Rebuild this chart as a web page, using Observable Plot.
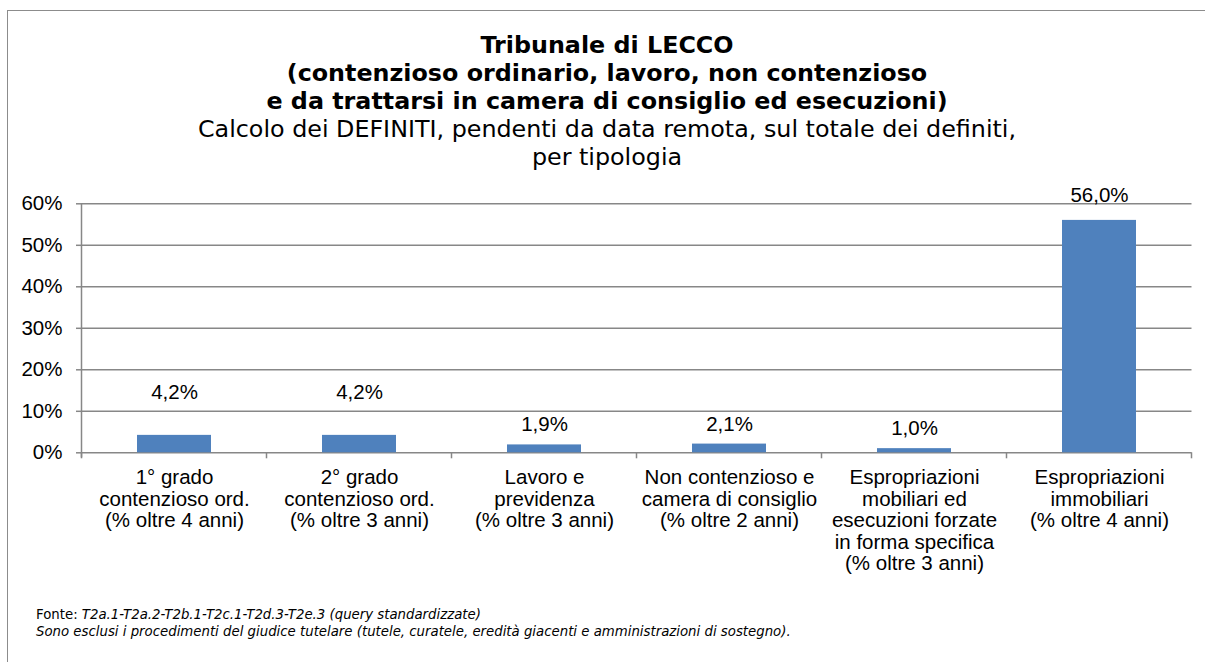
<!DOCTYPE html>
<html>
<head>
<meta charset="utf-8">
<script src="https://cdn.jsdelivr.net/npm/d3@7"></script>
<script src="https://cdn.jsdelivr.net/npm/@observablehq/plot@0.6"></script>
<style>
  html, body { margin: 0; padding: 0; background: #fff; }
  #frame { position: relative; width: 1205px; height: 662px; overflow: hidden; background: #fff; }
  #border { position: absolute; left: 7px; top: 10px; width: 1300px; height: 700px; border-top: 1.5px solid #8c8c8c; border-left: 1.5px solid #8c8c8c; }
  #title { position: absolute; left: 0; top: 31px; width: 1214px; text-align: center; font-family: "DejaVu Sans", Verdana, sans-serif; font-size: 23.8px; line-height: 28px; color: #000; }
  #title .b { font-weight: bold; }
  #chart { position: absolute; left: 0; top: 170px; }
  #chart svg { overflow: visible; }
  #foot { position: absolute; left: 36px; top: 607px; font-family: "DejaVu Sans", Verdana, sans-serif; font-size: 13.3px; line-height: 16.5px; color: #000; }
</style>
</head>
<body>
<div id="frame">
  <div id="border"></div>
  <div id="title">
    <div class="b">Tribunale di LECCO</div>
    <div class="b">(contenzioso ordinario, lavoro, non contenzioso</div>
    <div class="b">e da trattarsi in camera di consiglio ed esecuzioni)</div>
    <div>Calcolo dei DEFINITI, pendenti da data remota, sul totale dei definiti,</div>
    <div>per tipologia</div>
  </div>
  <div id="chart"></div>
  <div id="foot">
    <div>Fonte: <i>T2a.1-T2a.2-T2b.1-T2c.1-T2d.3-T2e.3 (query standardizzate)</i></div>
    <div><i>Sono esclusi i procedimenti del giudice tutelare (tutele, curatele, eredità giacenti e amministrazioni di sostegno).</i></div>
  </div>
</div>
<script>
const categories = [
  "1° grado\ncontenzioso ord.\n(% oltre 4 anni)",
  "2° grado\ncontenzioso ord.\n(% oltre 3 anni)",
  "Lavoro e\nprevidenza\n(% oltre 3 anni)",
  "Non contenzioso e\ncamera di consiglio\n(% oltre 2 anni)",
  "Espropriazioni\nmobiliari ed\nesecuzioni forzate\nin forma specifica\n(% oltre 3 anni)",
  "Espropriazioni\nimmobiliari\n(% oltre 4 anni)"
];
const values = [4.2, 4.2, 1.9, 2.1, 1.0, 56.0];
const yTicks = [0, 10, 20, 30, 40, 50, 60];

const data = categories.map((c, i) => ({
  cat: c,
  value: values[i],
  label: values[i].toFixed(1).replace(".", ",") + "%",
  i
}));

const grid = "#878787";
const fontSize = 20.5;

const chart = Plot.plot({
  width: 1205,
  height: 425,
  marginLeft: 81,
  marginRight: 13.5,
  marginTop: 33.3,
  marginBottom: 142.7,
  x: { domain: categories, paddingInner: 0.6, paddingOuter: 0.3, axis: null },
  y: { domain: [0, 60], axis: null },
  style: { fontFamily: '"Liberation Sans", Arial, sans-serif', fontSize: fontSize + "px", color: "#000", background: "transparent", overflow: "visible" },
  marks: [
    Plot.ruleY(yTicks, { stroke: grid, strokeWidth: 1.5 }),
    Plot.barY(data, { x: "cat", y: "value", fill: "#4F81BD" }),
    Plot.axisY({ ticks: yTicks, tickFormat: d => d + "%", tickSize: 5, tickPadding: 14, stroke: grid, strokeWidth: 1.5, fontSize, label: null }),
    Plot.text(data.filter(d => d.i < 2), { x: "cat", y: "value", text: "label", dy: -43, fontSize }),
    Plot.text(data.filter(d => d.i >= 2 && d.i < 5), { x: "cat", y: "value", text: "label", dy: -20, fontSize }),
    Plot.text(data.filter(d => d.i === 5), { x: "cat", y: "value", text: "label", dy: -25, fontSize }),
    Plot.text(data, { x: "cat", y: 0, text: "cat", lineAnchor: "top", dy: 16, lineHeight: 1.05, fontSize })
  ]
});

// Axis line and category boundary ticks, positioned via the plot's own scales
const xs = chart.scale("x");
const ys = chart.scale("y");
const y0 = ys.apply(0);
const yTop = ys.apply(60);
const half = (xs.step - xs.bandwidth) / 2;
const bounds = categories.map(c => xs.apply(c) - half);
bounds.push(xs.apply(categories[categories.length - 1]) + xs.bandwidth + half);
const g = d3.select(chart).append("g").attr("stroke", grid).attr("stroke-width", 1.5);
g.append("line").attr("x1", bounds[0]).attr("x2", bounds[0]).attr("y1", yTop).attr("y2", y0 + 5);
g.selectAll("line.tk").data(bounds).join("line").attr("class", "tk")
  .attr("x1", d => d).attr("x2", d => d).attr("y1", y0).attr("y2", y0 + 6);

document.getElementById("chart").appendChild(chart);
</script>
</body>
</html>
